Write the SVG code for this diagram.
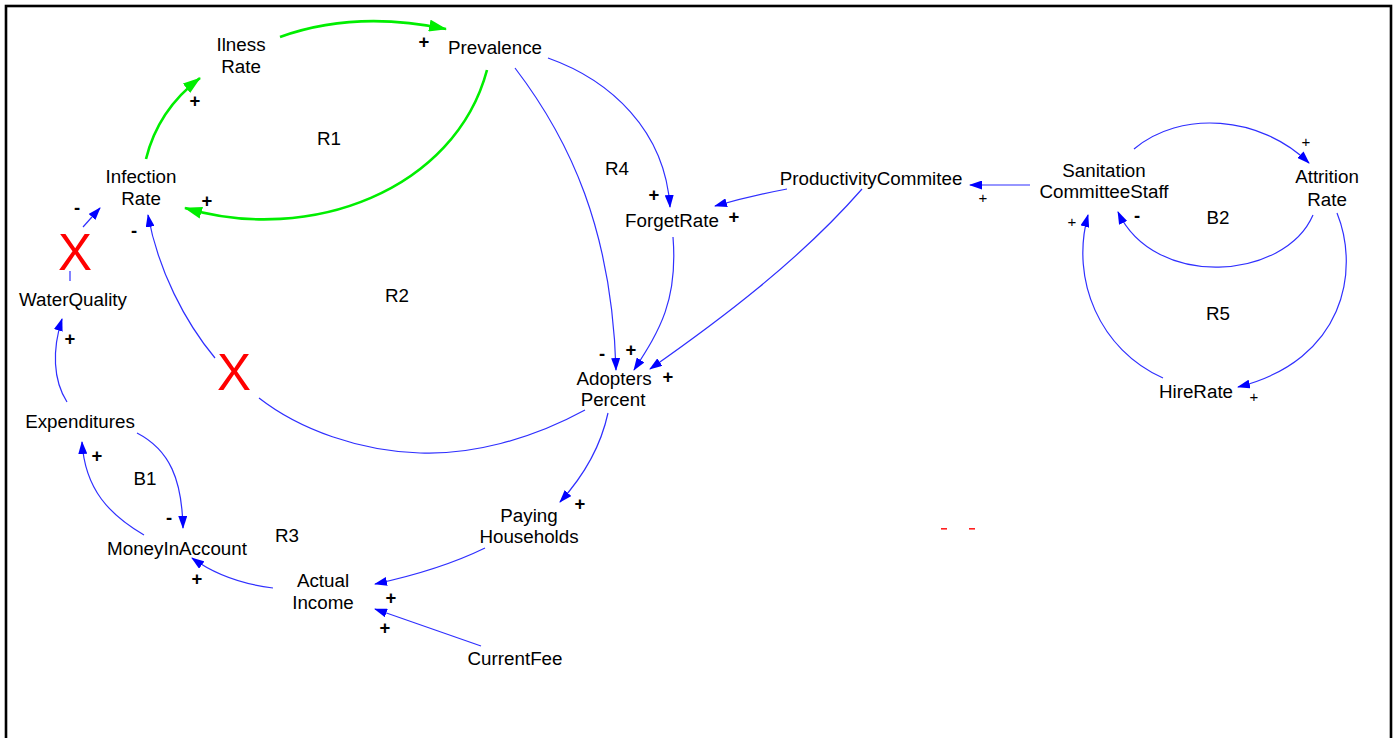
<svg xmlns="http://www.w3.org/2000/svg" width="1396" height="738" viewBox="0 0 1396 738">
  <style>
    .lbl { font-family: "Liberation Sans", Arial, sans-serif; font-size: 18.8px; fill: #000; text-anchor: middle; }
    .pol { font-family: "Liberation Sans", Arial, sans-serif; font-size: 18.5px; font-weight: bold; fill: #000; text-anchor: middle; }
    .pol-s { font-family: "Liberation Sans", Arial, sans-serif; font-size: 15px; fill: #000; text-anchor: middle; }
    .loop { font-family: "Liberation Sans", Arial, sans-serif; font-size: 18.8px; fill: #000; text-anchor: middle; }
    .cut { font-family: "Liberation Sans", Arial, sans-serif; font-size: 51px; fill: #ff0000; text-anchor: middle; }
    .blue { fill: none; stroke: #2f2fff; stroke-width: 1.2; marker-end: url(#arrowBlue); }
    .blue-plain { fill: none; stroke: #2f2fff; stroke-width: 1.2; }
    .green { fill: none; stroke: #00ee00; stroke-width: 2.6; marker-end: url(#arrowGreen); }
  </style>
  <defs>
    <marker id="arrowBlue" markerUnits="userSpaceOnUse" viewBox="0 0 13 9" refX="12" refY="4.5" markerWidth="13" markerHeight="9" orient="auto">
      <path d="M0,0 L13,4.5 L0,9 z" fill="#0000ff"/>
    </marker>
    <marker id="arrowGreen" markerUnits="userSpaceOnUse" viewBox="0 0 18 12" refX="17" refY="6" markerWidth="18" markerHeight="12" orient="auto">
      <path d="M0,0 L18,6 L0,12 z" fill="#00ee00"/>
    </marker>
  </defs>

  <rect width="1396" height="738" fill="#ffffff"/>
  <rect x="6" y="6" width="1385" height="760" fill="none" stroke="#000" stroke-width="2.6"/>

  <!-- causal links -->
  <g id="links">
    <path class="green" d="M146,159 Q158,110 200,78"/>
    <path class="green" d="M280,37 Q355,10 446,29"/>
    <path class="green" d="M487,70 C455,190 310,245 185,208"/>

    <path class="blue-plain" d="M70,281 L70,271"/>
    <path class="blue" d="M83,227 L100,208"/>
    <path class="blue" d="M585,410 C530,440 470,455 420,453 C360,451 300,430 259,398 M215,358 C185,322 158,270 148,215"/>
    <path class="blue" d="M515,68 C570,140 612,230 616,370"/>
    <path class="blue" d="M548,58 C610,80 665,130 670,207"/>
    <path class="blue" d="M787,189 Q750,196 715,206"/>
    <path class="blue" d="M673,237 C678,300 660,330 634,370"/>
    <path class="blue" d="M862,189 C800,260 720,320 650,369"/>
    <path class="blue" d="M1030,185 L970,185"/>
    <path class="blue" d="M1134,149 C1180,110 1260,115 1309,163"/>
    <path class="blue" d="M1313,215 C1285,280 1155,290 1118,212"/>
    <path class="blue" d="M1337,213 C1360,270 1345,360 1238,387"/>
    <path class="blue" d="M1163,378 C1100,350 1070,280 1088,215"/>
    <path class="blue" d="M608,413 C600,450 580,480 560,502"/>
    <path class="blue" d="M485,548 Q440,570 375,584"/>
    <path class="blue" d="M481,646 L375,609"/>
    <path class="blue" d="M273,588 Q225,582 192,558"/>
    <path class="blue" d="M137,433 C170,450 182,480 183,528"/>
    <path class="blue" d="M144,535 C110,515 85,490 82,442"/>
    <path class="blue" d="M67,402 C53,380 52,350 62,319"/>
  </g>

  <!-- variables -->
  <g id="illness-rate"><text class="lbl" x="241" y="51">Ilness</text><text class="lbl" x="241" y="73">Rate</text></g>
  <g id="prevalence"><text class="lbl" x="495" y="54">Prevalence</text></g>
  <g id="infection-rate"><text class="lbl" x="141" y="183">Infection</text><text class="lbl" x="141" y="205">Rate</text></g>
  <g id="water-quality"><text class="lbl" x="73" y="306">WaterQuality</text></g>
  <g id="expenditures"><text class="lbl" x="80" y="428">Expenditures</text></g>
  <g id="money-in-account"><text class="lbl" x="177" y="555">MoneyInAccount</text></g>
  <g id="actual-income"><text class="lbl" x="323" y="587">Actual</text><text class="lbl" x="323" y="609">Income</text></g>
  <g id="paying-households"><text class="lbl" x="529" y="522">Paying</text><text class="lbl" x="529" y="543">Households</text></g>
  <g id="current-fee"><text class="lbl" x="515" y="665">CurrentFee</text></g>
  <g id="adopters-percent"><text class="lbl" x="614" y="385">Adopters</text><text class="lbl" x="613" y="406">Percent</text></g>
  <g id="forget-rate"><text class="lbl" x="672" y="227">ForgetRate</text></g>
  <g id="productivity-commitee"><text class="lbl" x="871" y="185">ProductivityCommitee</text></g>
  <g id="sanitation-committee-staff"><text class="lbl" x="1104" y="177">Sanitation</text><text class="lbl" x="1104" y="198">CommitteeStaff</text></g>
  <g id="attrition-rate"><text class="lbl" x="1327" y="183">Attrition</text><text class="lbl" x="1327" y="206">Rate</text></g>
  <g id="hire-rate"><text class="lbl" x="1196" y="398">HireRate</text></g>

  <!-- cut marks on links -->
  <g id="cut-marks">
    <text class="cut" x="75" y="270">X</text>
    <text class="cut" x="234" y="390">X</text>
  </g>

  <!-- loop identifiers -->
  <g id="loops">
    <text class="loop" x="329" y="145">R1</text>
    <text class="loop" x="397" y="302">R2</text>
    <text class="loop" x="617" y="175">R4</text>
    <text class="loop" x="145" y="485">B1</text>
    <text class="loop" x="287" y="542">R3</text>
    <text class="loop" x="1218" y="224">B2</text>
    <text class="loop" x="1218" y="320">R5</text>
  </g>

  <!-- link polarities -->
  <g id="polarities">
    <text class="pol" x="424" y="47.5">+</text>
    <text class="pol" x="195" y="106.5">+</text>
    <text class="pol" x="207" y="206.5">+</text>
    <text class="pol" x="70" y="344.5">+</text>
    <text class="pol" x="97" y="461.5">+</text>
    <text class="pol" x="197" y="584.5">+</text>
    <text class="pol" x="580" y="509.5">+</text>
    <text class="pol" x="391" y="603.5">+</text>
    <text class="pol" x="385" y="633.5">+</text>
    <text class="pol" x="654" y="200.5">+</text>
    <text class="pol" x="734" y="222.5">+</text>
    <text class="pol" x="631" y="355.5">+</text>
    <text class="pol" x="668" y="382.5">+</text>
    <text class="pol" x="77" y="214">-</text>
    <text class="pol" x="134" y="237">-</text>
    <text class="pol" x="169" y="524">-</text>
    <text class="pol" x="602" y="360">-</text>
    <text class="pol" x="1137" y="222">-</text>
    <text class="pol-s" x="983" y="203">+</text>
    <text class="pol-s" x="1306" y="147">+</text>
    <text class="pol-s" x="1072" y="227">+</text>
    <text class="pol-s" x="1254" y="402">+</text>
  </g>

  <!-- stray marks -->
  <g id="stray">
    <rect x="941" y="528" width="6" height="1.6" fill="#ff2020"/>
    <rect x="969" y="528" width="6" height="1.6" fill="#ff2020"/>
  </g>
</svg>
